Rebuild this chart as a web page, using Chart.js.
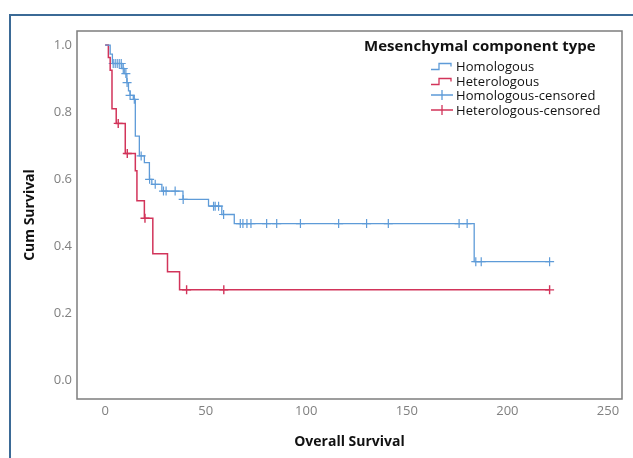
<!DOCTYPE html>
<html>
<head>
<meta charset="utf-8">
<title>Overall Survival by Mesenchymal component type</title>
<script src="https://cdn.jsdelivr.net/npm/chart.js@4.4.1/dist/chart.umd.min.js"></script>
<style>
  html, body { margin:0; padding:0; background:#fff; }
  body { width:633px; height:458px; position:relative; overflow:hidden; font-family:'Open Sans', sans-serif; }
  #frame { position:absolute; left:9px; top:14px; width:700px; height:500px;
           border-left:2px solid #3b6a96; border-top:2px solid #3b6a96; }
  #km { position:absolute; left:0; top:0; }
  .legend { position:absolute; left:364px; top:35px; color:#111; }
  .lg-title { font-weight:700; font-size:15px; line-height:21px; white-space:nowrap; letter-spacing:0.05px; }
  .lg-items { margin-left:66px; margin-top:3px; }
  .lg-row { display:flex; align-items:center; height:14.5px; font-size:13px; white-space:nowrap; letter-spacing:0.1px; }
  .lg-row svg { width:24px; height:12px; margin-right:2px; }
</style>
</head>
<body>
<div id="frame"></div>
<canvas id="km" width="633" height="458"></canvas>
<div class="legend">
  <div class="lg-title">Mesenchymal component type</div>
  <div class="lg-items" id="lg-items"></div>
</div>
<script>
// Kaplan-Meier estimates (time = months)
const HOMO_TIME = [0, 2.5, 3.6, 8.3, 9.5, 10.8, 11.6, 12.4, 14, 15, 17, 19.5, 22, 23.2, 28.2, 38.7, 51.4, 58, 64.2, 183.5, 221];
const HOMO_SURV = [1.0, 0.973, 0.945, 0.93, 0.915, 0.888, 0.863, 0.85, 0.838, 0.728, 0.669, 0.649, 0.599, 0.584, 0.564, 0.539, 0.519, 0.494, 0.467, 0.353, 0.353];
const HOMO_CENSORED = [4, 5, 6, 7, 8, 9, 10.3, 10.9, 12.4, 14.5, 17.9, 22.1, 24.9, 29, 30.3, 34.8, 38.8, 53.9, 54.7, 56.4,
                       58.9, 67.2, 68.5, 70.5, 72.5, 80.3, 85.3, 97.1, 116.1, 130, 140.8, 176, 180, 184.3, 187, 221];

const HETERO_TIME = [0, 1.6, 2.5, 3.4, 5.5, 10, 15, 15.8, 19.5, 23.7, 31, 37, 221];
const HETERO_SURV = [1.0, 0.963, 0.925, 0.81, 0.766, 0.676, 0.625, 0.535, 0.483, 0.377, 0.323, 0.269, 0.269];
const HETERO_CENSORED = [6.5, 11, 19.8, 40.5, 59, 221];

const X_TICKS = [0, 50, 100, 150, 200, 250];
const Y_TICKS = [0, 0.2, 0.4, 0.6, 0.8, 1.0];

const COLORS = { homo: '#5e9bd8', hetero: '#d2345a' };

const LEGEND = [
  { label: 'Homologous',            color: COLORS.homo,   kind: 'step' },
  { label: 'Heterologous',          color: COLORS.hetero, kind: 'step' },
  { label: 'Homologous-censored',   color: COLORS.homo,   kind: 'cross' },
  { label: 'Heterologous-censored', color: COLORS.hetero, kind: 'cross' }
];

function stepPoints(times, surv) {
  return times.map((t, i) => ({ x: t, y: surv[i] }));
}

// survival value in effect at time t
function survAt(times, surv, t) {
  let v = surv[0];
  for (let i = 0; i < times.length; i++) if (times[i] <= t) v = surv[i];
  return v;
}

function censorPoints(cens, times, surv) {
  return cens.map(t => ({ x: t, y: survAt(times, surv, t) }));
}

function renderLegend() {
  const box = document.getElementById('lg-items');
  box.innerHTML = LEGEND.map(item => {
    const icon = item.kind === 'step'
      ? `<path d="M1 9.5 H9 V3.5 H21 V6.5" fill="none" stroke="${item.color}" stroke-width="1.3"/>`
      : `<path d="M1 6 H23 M12 1 V11" fill="none" stroke="${item.color}" stroke-width="1.3"/>`;
    return `<div class="lg-row"><svg viewBox="0 0 24 12">${icon}</svg>${item.label}</div>`;
  }).join('');
}

const plotBox = {
  id: 'plotBox',
  afterDraw(chart) {
    const { ctx, chartArea: a } = chart;
    ctx.save();
    ctx.strokeStyle = '#7d7d7d';
    ctx.lineWidth = 1.5;
    ctx.strokeRect(a.left, a.top, a.right - a.left, a.bottom - a.top);
    ctx.restore();
  }
};

Chart.defaults.font.family = "'Open Sans', sans-serif";

new Chart(document.getElementById('km'), {
  type: 'line',
  data: {
    datasets: [
      { label: 'Homologous', data: stepPoints(HOMO_TIME, HOMO_SURV), stepped: 'before',
        borderColor: COLORS.homo, borderWidth: 1.3, pointRadius: 0, fill: false },
      { label: 'Heterologous', data: stepPoints(HETERO_TIME, HETERO_SURV), stepped: 'before',
        borderColor: COLORS.hetero, borderWidth: 1.5, pointRadius: 0, fill: false },
      { label: 'Homologous-censored', data: censorPoints(HOMO_CENSORED, HOMO_TIME, HOMO_SURV), showLine: false,
        pointStyle: 'cross', pointRadius: 4.5, borderColor: COLORS.homo, borderWidth: 1.2 },
      { label: 'Heterologous-censored', data: censorPoints(HETERO_CENSORED, HETERO_TIME, HETERO_SURV), showLine: false,
        pointStyle: 'cross', pointRadius: 4.5, borderColor: COLORS.hetero, borderWidth: 1.4 }
    ]
  },
  options: {
    responsive: false,
    animation: false,
    layout: { padding: { left: 0, top: 31, right: 11, bottom: 0 } },
    plugins: { legend: { display: false }, tooltip: { enabled: false } },
    scales: {
      x: {
        type: 'linear', min: -14, max: 257,
        afterBuildTicks: s => { s.ticks = X_TICKS.map(v => ({ value: v })); },
        afterFit: s => { s.height = 59; },
        grid: { display: false, drawTicks: false },
        border: { display: false },
        ticks: { color: '#808080', font: { size: 13 }, padding: 4, maxRotation: 0 },
        title: { display: true, text: 'Overall Survival', color: '#111',
                 font: { size: 14, weight: 'bold' }, padding: { top: 0, bottom: 8 } }
      },
      y: {
        type: 'linear', min: -0.057, max: 1.042,
        afterBuildTicks: s => { s.ticks = Y_TICKS.map(v => ({ value: v })); },
        afterFit: s => { s.width = 77; },
        grid: { display: false, drawTicks: false },
        border: { display: false },
        ticks: { color: '#808080', font: { size: 13 }, padding: 5, callback: v => v.toFixed(1) },
        title: { display: true, text: 'Cum Survival', color: '#111',
                 font: { size: 14, weight: 'bold' }, padding: { top: 22, bottom: 0 } }
      }
    }
  },
  plugins: [plotBox]
});

renderLegend();
</script>
</body>
</html>
